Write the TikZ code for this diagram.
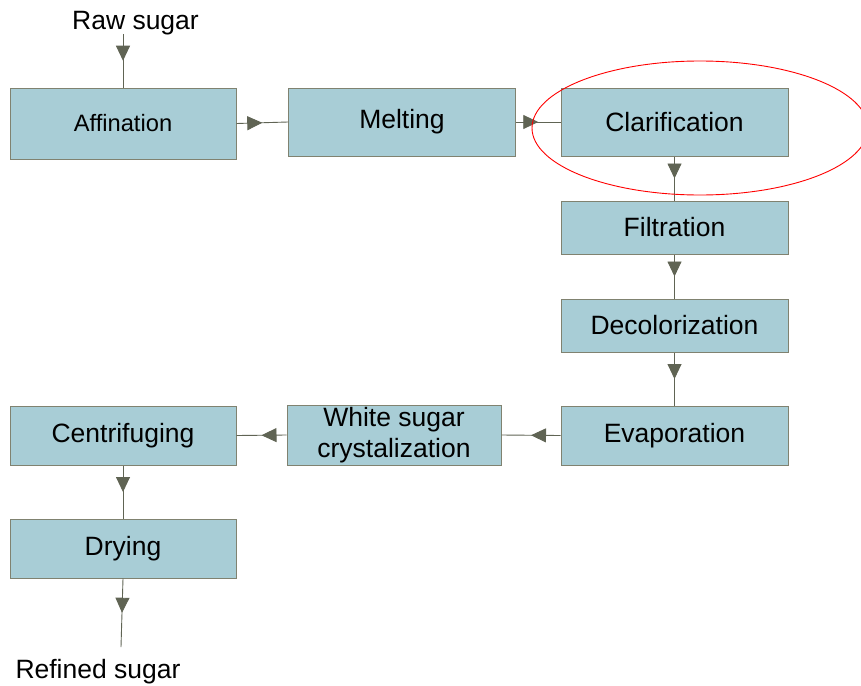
\documentclass[tikz,border=0pt]{standalone}
\usepackage{fontspec}
\setmainfont{Liberation Sans}
\usetikzlibrary{arrows.meta,decorations.markings}
\definecolor{boxfill}{RGB}{168,205,214}
\definecolor{boxline}{RGB}{128,130,112}
\definecolor{arr}{RGB}{96,100,84}
\begin{document}
\begin{tikzpicture}[x=1pt,y=-1pt,
  proc/.style={draw=boxline, fill=boxfill, line width=1pt, inner sep=0pt,
    font=\fontsize{26.5}{31}\selectfont, align=center},
  flow/.style={color=arr, line width=0.9pt, postaction={decorate},
    decoration={markings, mark=at position 0.5 with {\arrow{Triangle[length=15pt,width=14pt]}}}},
  lbl/.style={font=\fontsize{26.5}{31}\selectfont, inner sep=0pt}]
\useasboundingbox (0,0) rectangle (861,685);
% boxes
\node[proc, minimum width=226pt, minimum height=71pt, font=\fontsize{23.7}{28}\selectfont] (aff) at (123,123.5) {Affination};
\node[proc, minimum width=227pt, minimum height=68pt] (melt) at (402,122) {\raisebox{-2pt}{Melting}};
\node[proc, minimum width=227pt, minimum height=68pt] (clar) at (674.5,122) {Clarification};
\node[proc, minimum width=227pt, minimum height=53pt] (filt) at (674.5,227.5) {Filtration};
\node[proc, minimum width=227pt, minimum height=53pt] (deco) at (674.5,325.5) {Decolorization};
\node[proc, minimum width=227pt, minimum height=59pt] (evap) at (674.5,435.5) {Evaporation};
\node[proc, minimum width=214pt, minimum height=60pt] (wsc) at (394,435) {White sugar\\crystalization};
\node[proc, minimum width=226pt, minimum height=59pt] (cent) at (123,435.5) {\raisebox{-2pt}{Centrifuging}};
\node[proc, minimum width=226pt, minimum height=59pt] (dry) at (123,548.5) {\raisebox{-2pt}{Drying}};
% labels
\node[lbl] (raw) at (135.5,23) {Raw sugar};
\node[lbl] (ref) at (98,672) {Refined sugar};
\coordinate (rs) at (123,34);
\coordinate (rf) at (121,647);
% connectors
\draw[flow] (rs) -- (aff.north);
\draw[flow] (aff.east) -- (melt.west);
\draw[flow] (melt.east) -- (clar.west);
\draw[flow] (clar.south) -- (filt.north);
\draw[flow] (filt.south) -- (deco.north);
\draw[flow] (deco.south) -- (evap.north);
\draw[flow] (evap.west) -- (wsc.east);
\draw[flow] (wsc.west) -- (cent.east);
\draw[flow] (cent.south) -- (dry.north);
\draw[flow] (dry.south) -- (rf);
% highlight ellipse
\begin{scope}
\clip (0,0) rectangle (861,685);
\draw[red, line width=0.9pt] (700,128) ellipse [x radius=168, y radius=67];
\end{scope}
\end{tikzpicture}
\end{document}
